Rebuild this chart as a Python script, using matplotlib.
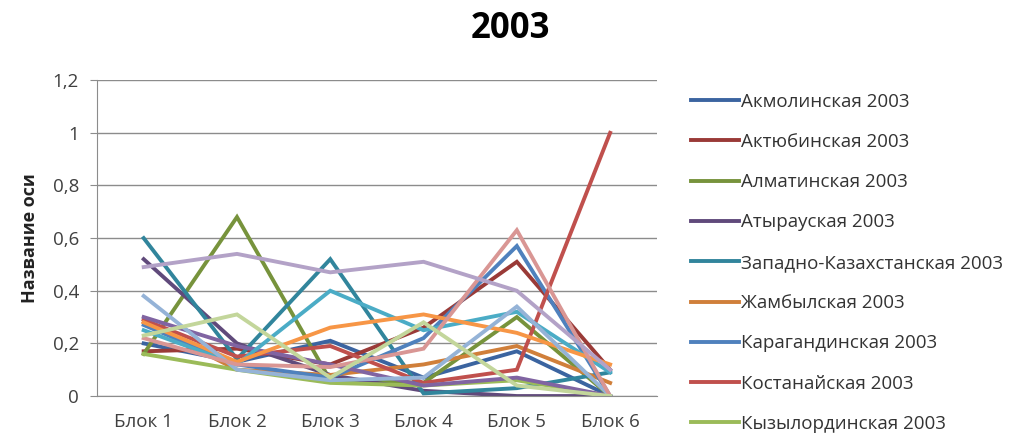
import matplotlib
matplotlib.use("Agg")
import matplotlib.pyplot as plt

plt.rcParams['font.family'] = ['Open Sans', 'DejaVu Sans']

# categories
blocks = ["Блок 1", "Блок 2", "Блок 3", "Блок 4", "Блок 5", "Блок 6"]

# series values
akmola = [0.20, 0.13, 0.21, 0.07, 0.17, 0.00]
aktobe = [0.17, 0.18, 0.12, 0.26, 0.51, 0.10]
almaty_obl = [0.16, 0.68, 0.06, 0.05, 0.30, 0.00]
atyrau = [0.52, 0.20, 0.08, 0.02, 0.00, 0.00]
zko = [0.60, 0.14, 0.52, 0.01, 0.03, 0.09]
zhambyl = [0.28, 0.10, 0.08, 0.12, 0.19, 0.05]
karaganda = [0.27, 0.12, 0.07, 0.22, 0.57, 0.00]
kostanay = [0.29, 0.15, 0.19, 0.05, 0.10, 1.00]
kyzylorda = [0.16, 0.10, 0.05, 0.04, 0.06, 0.00]
mangistau = [0.30, 0.19, 0.12, 0.04, 0.07, 0.00]
yuko = [0.25, 0.12, 0.40, 0.25, 0.32, 0.09]
pavlodar = [0.28, 0.13, 0.26, 0.31, 0.24, 0.12]
sko = [0.38, 0.10, 0.06, 0.07, 0.34, 0.00]
vko = [0.22, 0.12, 0.11, 0.18, 0.63, 0.00]
astana = [0.23, 0.31, 0.07, 0.28, 0.04, 0.00]
almaty = [0.49, 0.54, 0.47, 0.51, 0.40, 0.10]

names = ["Акмолинская 2003", "Актюбинская 2003", "Алматинская 2003", "Атырауская 2003",
         "Западно-Казахстанская 2003", "Жамбылская 2003", "Карагандинская 2003",
         "Костанайская 2003", "Кызылординская 2003", "Мангистауская 2003",
         "Южно-Казахстанская 2003", "Павлодарская 2003", "Северо-Казахстанская 2003",
         "Восточно-Казахстанская 2003", "г. Астана 2003", "г. Алматы 2003"]
series = [akmola, aktobe, almaty_obl, atyrau, zko, zhambyl, karaganda, kostanay,
          kyzylorda, mangistau, yuko, pavlodar, sko, vko, astana, almaty]
colors = ["#3B64A0", "#9A3A37", "#77933C", "#604A7B", "#31859C", "#D07F3A",
          "#4F81BD", "#C0504D", "#9BBB59", "#8064A2", "#4BACC6", "#F79646",
          "#95B3D7", "#D99694", "#C3D69B", "#B3A2C7"]

# the legend in the picture only fits the first 9 entries
n_legend = 9

fig = plt.figure(figsize=(10.14, 4.43), dpi=100)
ax = fig.add_axes([0.0957, 0.106, 0.552, 0.713])

x = list(range(len(blocks)))
lines = []
for vals, name, c in zip(series, names, colors):
    ln, = ax.plot(x, vals, color=c, lw=2.8, label=name, solid_joinstyle='miter')
    lines.append(ln)

ax.set_xlim(-0.5, 5.5)
ax.set_ylim(0, 1.2)
ax.set_yticks([0, 0.2, 0.4, 0.6, 0.8, 1.0, 1.2])
ax.set_yticklabels(["0", "0,2", "0,4", "0,6", "0,8", "1", "1,2"])
ax.set_xticks(x)
ax.set_xticklabels(blocks)
ax.yaxis.grid(True, color="#8C8C8C", lw=1)
ax.set_axisbelow(True)
for s in ["top", "right"]:
    ax.spines[s].set_visible(False)
ax.spines["left"].set_color("#8C8C8C")
ax.spines["bottom"].set_color("#8C8C8C")
ax.tick_params(axis="y", colors="#8C8C8C", labelcolor="#404040", labelsize=13.5, length=5, pad=8)
ax.tick_params(axis="x", length=0, labelcolor="#404040", labelsize=13.5, pad=12)

ax.set_ylabel("Название оси", fontsize=13, fontweight="bold", color="#222222", labelpad=10)
fig.text(0.503, 0.935, "2003", ha="center", va="center", fontsize=25, fontweight="bold")

fig.legend(lines[:n_legend], names[:n_legend], loc="upper left", bbox_to_anchor=(0.674, 0.808),
           frameon=False, fontsize=13.5, labelspacing=1.19, handlelength=2.55,
           handletextpad=0.12, borderaxespad=0, labelcolor="#333333")

fig.savefig("out.png", dpi=100)
